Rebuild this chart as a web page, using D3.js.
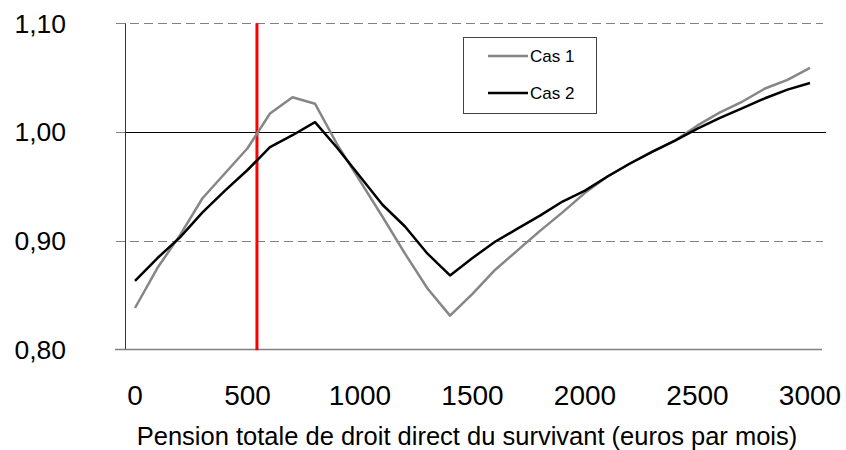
<!DOCTYPE html>
<html>
<head>
<meta charset="utf-8">
<script src="https://cdn.jsdelivr.net/npm/d3@7"></script>
<style>
  body { margin: 0; background: #fff; }
  text { font-family: "Liberation Sans", Arial, sans-serif; }
</style>
</head>
<body>
<div id="chart"></div>
<script>
// pension levels (euros par mois)
const pensions = d3.range(0, 3001, 100);

const cas1 = [0.838, 0.875, 0.905, 0.939, 0.962, 0.985, 1.017, 1.032, 1.026, 0.988,
              0.955, 0.922, 0.888, 0.856, 0.831, 0.851, 0.873, 0.891, 0.909, 0.926,
              0.944, 0.959, 0.971, 0.982, 0.992, 1.006, 1.018, 1.028, 1.040, 1.048, 1.059];
const cas2 = [0.863, 0.884, 0.903, 0.926, 0.946, 0.965, 0.986, 0.997, 1.009, 0.985,
              0.959, 0.933, 0.913, 0.888, 0.868, 0.884, 0.899, 0.911, 0.923, 0.936,
              0.946, 0.959, 0.971, 0.982, 0.992, 1.003, 1.013, 1.022, 1.031, 1.039, 1.045];

const seriesNames = ["Cas 1", "Cas 2"];
const yTicks = [0.8, 0.9, 1.0, 1.1];
const xTicks = [0, 500, 1000, 1500, 2000, 2500, 3000];
const redLineAt = 542;
const xTitle = "Pension totale de droit direct du survivant (euros par mois)";

const W = 846, H = 450;
const svg = d3.select("#chart").append("svg")
    .attr("width", W).attr("height", H);

const x = d3.scaleLinear().domain([0, 3000]).range([135, 810]);
const y = d3.scaleLinear().domain([0.8, 1.1]).range([349.3, 23.3]);
const plotLeft = 125, plotRight = 823;

// horizontal gridlines (dashed)
svg.append("g").selectAll("line")
  .data(yTicks.filter(d => d > 0.8))
  .join("line")
    .attr("x1", 116).attr("x2", plotRight)
    .attr("y1", d => Math.round(y(d)) + 0.5).attr("y2", d => Math.round(y(d)) + 0.5)
    .attr("stroke", "#808080").attr("stroke-width", 1)
    .attr("stroke-dasharray", "9,5");

// reference line at 1
svg.append("line")
    .attr("x1", plotLeft).attr("x2", plotRight + 3)
    .attr("y1", Math.round(y(1)) + 0.5).attr("y2", Math.round(y(1)) + 0.5)
    .attr("stroke", "#000").attr("stroke-width", 1.2);

// y axis line
svg.append("line")
    .attr("x1", plotLeft + 0.5).attr("x2", plotLeft + 0.5)
    .attr("y1", y(1.1)).attr("y2", y(0.8))
    .attr("stroke", "#333").attr("stroke-width", 1);

// x axis line
svg.append("line")
    .attr("x1", 115).attr("x2", 822)
    .attr("y1", Math.round(y(0.8)) + 0.5).attr("y2", Math.round(y(0.8)) + 0.5)
    .attr("stroke", "#808080").attr("stroke-width", 1.5);

// y tick labels
svg.append("g").selectAll("text")
  .data(yTicks)
  .join("text")
    .attr("x", 66).attr("y", d => y(d))
    .attr("dy", "0.35em")
    .attr("text-anchor", "end")
    .attr("font-size", 26.5)
    .text(d => d3.format(".2f")(d).replace(".", ","));

// x tick labels
svg.append("g").selectAll("text")
  .data(xTicks)
  .join("text")
    .attr("x", d => x(d)).attr("y", 405)
    .attr("text-anchor", "middle")
    .attr("font-size", 28)
    .text(d => d);

// x title
svg.append("text")
    .attr("x", 467).attr("y", 445)
    .attr("text-anchor", "middle")
    .attr("font-size", 25.5)
    .text(xTitle);

// red vertical marker
svg.append("line")
    .attr("x1", x(redLineAt)).attr("x2", x(redLineAt))
    .attr("y1", y(1.1)).attr("y2", y(0.8) + 1)
    .attr("stroke", "#ff0000").attr("stroke-width", 3);

// series lines
const colors = ["#868686", "#000000"];
const line = d3.line().x((d, i) => x(pensions[i])).y(d => y(d));
[cas1, cas2].forEach((s, k) => {
  svg.append("path")
      .datum(s)
      .attr("d", line)
      .attr("fill", "none")
      .attr("stroke", colors[k])
      .attr("stroke-width", 2.5)
      .attr("stroke-linejoin", "round");
});

// legend
const lg = svg.append("g");
lg.append("rect")
    .attr("x", 463.5).attr("y", 37.5).attr("width", 133).attr("height", 76)
    .attr("fill", "#fff").attr("stroke", "#444").attr("stroke-width", 1);
seriesNames.forEach((n, k) => {
  const ly = 56 + k * 37;
  lg.append("line")
      .attr("x1", 488).attr("x2", 528).attr("y1", ly).attr("y2", ly)
      .attr("stroke", colors[k]).attr("stroke-width", 2.5);
  lg.append("text")
      .attr("x", 530).attr("y", ly).attr("dy", "0.35em")
      .attr("font-size", 17)
      .text(n);
});
</script>
</body>
</html>
